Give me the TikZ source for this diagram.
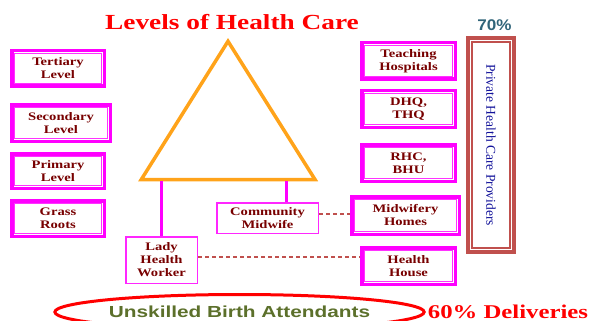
\documentclass[tikz,border=0pt]{standalone}
\usepackage{fontspec}
\setmainfont{Liberation Serif}
\newfontfamily\wideserif[FakeStretch=1.27]{Liberation Serif}
\newfontfamily\widesans[FakeStretch=1.3]{Liberation Sans}
\newfontfamily\pctsans[FakeStretch=1.1]{Liberation Sans}
\usetikzlibrary{shapes.geometric}

\definecolor{boxmag}{HTML}{FF00FF}
\definecolor{boxtext}{HTML}{780000}
\definecolor{privred}{HTML}{C0504D}
\definecolor{privtext}{HTML}{12129A}
\definecolor{triorange}{HTML}{FFA31A}
\definecolor{teal70}{HTML}{31657A}
\definecolor{olivetext}{HTML}{5C702B}

\tikzset{
  boxfont/.style={font=\wideserif\bfseries\fontsize{11.5}{13}\selectfont, text=boxtext, align=center},
  % thick magenta frame with a thin inner rule
  levelbox/.style={boxfont, draw=boxmag, line width=3.5pt, fill=white, inner sep=0pt,
    path picture={\draw[boxmag!80, line width=1pt]
      ([shift={(3.2,3.2)}]path picture bounding box.north west) rectangle
      ([shift={(-3.2,-3.2)}]path picture bounding box.south east);}},
  % plain thin-framed box
  workerbox/.style={boxfont, draw=boxmag!85, line width=1.5pt, fill=white, inner sep=0pt},
  stem/.style={draw=boxmag, line width=3pt},
  link/.style={draw=privred, line width=1.5pt, dash pattern=on 4pt off 3pt},
  pyramid/.style={draw=triorange, line width=3.5pt, line join=miter},
}

\begin{document}
\begin{tikzpicture}[x=1pt, y=-1pt]
  \useasboundingbox (0,0) rectangle (592,321);
  \clip (0,0) rectangle (592,321);

  % title
  \node[anchor=base, text=red, font=\wideserif\bfseries\fontsize{21.5}{24}\selectfont]
    (title) at (232,29.5) {Levels of Health Care};

  % left column: levels
  \node[levelbox, minimum width=92.5pt, minimum height=35.5pt] (tert)  at (58,68.5)  {Tertiary\\Level};
  \node[levelbox, minimum width=98.5pt, minimum height=36.5pt] (sec)   at (61,123)   {Secondary\\Level};
  \node[levelbox, minimum width=92.5pt, minimum height=34.5pt] (prim)  at (58,171)   {Primary\\Level};
  \node[levelbox, minimum width=92.5pt, minimum height=35.5pt] (grass) at (58,218.5) {Grass\\Roots};

  % right column: facilities
  \node[levelbox, minimum width=93.5pt, minimum height=36.5pt]  (teach) at (408.5,61)    {Teaching\\Hospitals};
  \node[levelbox, minimum width=93.5pt, minimum height=36.5pt]  (dhq)   at (408.5,109)   {DHQ,\\THQ};
  \node[levelbox, minimum width=93.5pt, minimum height=36.5pt]  (rhc)   at (408.5,163)   {RHC,\\BHU};
  \node[levelbox, minimum width=107.5pt, minimum height=37.5pt] (mh)    at (405.5,215.5) {Midwifery\\Homes};
  \node[levelbox, minimum width=93.5pt, minimum height=36.5pt]  (hh)    at (408.5,266)   {Health\\House};

  % private sector column
  \node[anchor=base, text=teal70, font=\pctsans\bfseries\fontsize{15.5}{17}\selectfont]
    (pct) at (494.5,31) {70\%};
  \node[draw=privred, line width=4pt, fill=white, inner sep=0pt,
        minimum width=46pt, minimum height=214pt,
        text=privtext, font=\fontsize{13.5}{15}\selectfont,
        path picture={\draw[privred, line width=1.5pt]
          ([shift={(4.2,4.2)}]path picture bounding box.north west) rectangle
          ([shift={(-4.2,-4.2)}]path picture bounding box.south east);}]
    (priv) at (491,145) {\rotatebox{-90}{Private Health Care Providers}};

  % pyramid
  \coordinate (apex) at (228,41.3);
  \coordinate (bl) at (141.3,179.5);
  \coordinate (br) at (315,179.5);
  \draw[pyramid] (apex) -- (bl) -- (br) -- cycle;

  % community workers
  \node[workerbox, minimum width=101.5pt, minimum height=30.5pt] (cm)  at (267.5,218) {Community\\Midwife};
  \node[workerbox, minimum width=71.5pt, minimum height=46.5pt]  (lhw) at (161.5,260) {Lady\\Health\\Worker};

  \coordinate (b1) at (161.5,181);
  \coordinate (b2) at (286,181);
  \draw[stem] (b1) -- (lhw.north);
  \draw[stem] (b2) -- (b2 |- cm.north);

  \draw[link] ([yshift=4pt]cm.east) -- ([yshift=4pt]cm.east -| mh.west);
  \draw[link] ([yshift=3pt]lhw.east) -- ([yshift=3pt]lhw.east -| hh.west);

  % unskilled attendants
  \node[ellipse, draw=red, line width=3pt, minimum width=364pt, minimum height=35pt, inner sep=0pt,
        text=olivetext, font=\widesans\bfseries\fontsize{16}{18}\selectfont]
    (uba) at (239.5,312) {Unskilled Birth Attendants};
  \node[anchor=base, text=red, font=\wideserif\bfseries\fontsize{19.5}{22}\selectfont]
    (deliv) at (508,318) {60\% Deliveries};
\end{tikzpicture}
\end{document}
